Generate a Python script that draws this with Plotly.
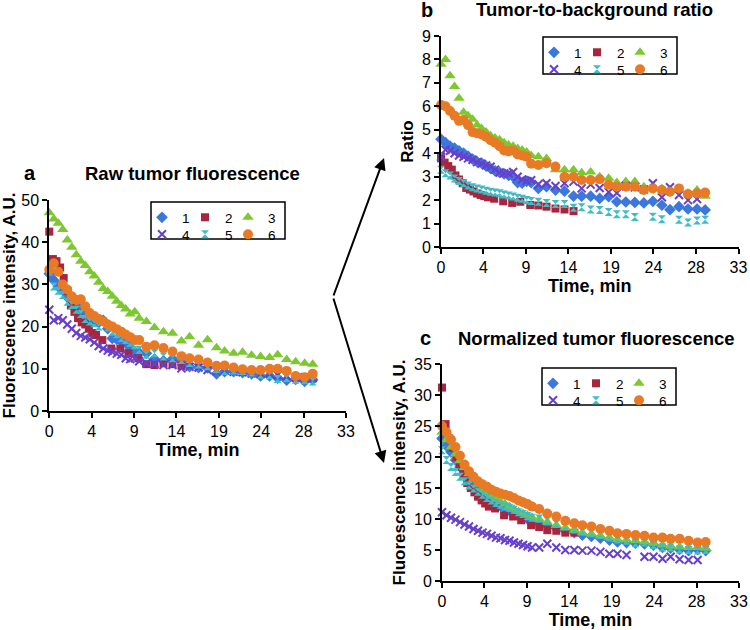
import plotly.graph_objects as go

# ---------------- data ----------------
SERIES_NAMES = ["1", "2", "3", "4", "5", "6"]
TIME_TICK_LABELS = ["0", "4", "9", "14", "19", "24", "28", "33"]
TIME_TICK_POS = [0, 4.71, 9.43, 14.14, 18.86, 23.57, 28.29, 33]

T_DENSE = [0.0, 0.5, 1.0, 1.5, 2.0, 2.5, 3.0, 3.5, 4.0, 4.5, 5.0, 5.5, 6.0, 6.5, 7.0, 7.5, 8.0, 8.5, 9.0, 9.5, 10.0]
T_SPARSE = [10.8, 11.7, 12.7, 13.7, 14.7, 15.6, 16.6, 17.6, 18.6, 19.5, 20.5, 21.5, 22.5, 23.5, 24.5, 25.4, 26.4, 27.4, 28.4, 29.3]
T_FULL = T_DENSE + T_SPARSE
T_RED = [0, 0.4, 0.8, 1.2, 1.6, 2.0, 2.4, 2.8, 3.2, 3.6, 4.0, 4.4, 4.8, 5.2, 5.9, 6.9, 7.9, 8.8, 9.9, 10.8, 11.7, 12.7, 13.7, 14.7]

# Panel a: raw tumor fluorescence
A_Y1 = [32.5, 31, 29.5, 28.5, 27, 26, 25, 24, 23, 22, 21.5, 21, 21.5, 19.5, 17.2, 17, 16.5, 16.2, 15, 14, 13.8] + \
       [13.7, 12.3, 11.9, 12.3, 11.8, 10.5, 10.3, 10.2, 8.8, 9.3, 9.3, 9.1, 8.8, 8.3, 8.3, 7.8, 7.3, 7.5, 7.0, 7.4]
A_Y2 = [42.5, 36, 35.5, 34, 31.5, 28.5, 25, 23.5, 22, 21, 20.5, 19.5, 18.5, 18, 16.8, 14.8, 14.8, 13.7, 12.5, 11.1, 10.9, 11.3, 11.1, 10.7]
A_Y3 = [47, 45.5, 44.5, 43, 40.5, 38.8, 37, 35.5, 34.5, 33, 32, 30.5, 29, 28.3, 27.2, 26, 25, 24.2, 23, 23.5, 22] + \
       [21.2, 19.8, 18.8, 18.4, 16.6, 17.6, 15.6, 16.9, 15, 14.2, 13.7, 13.9, 13.2, 12.9, 12.7, 13.3, 12.2, 11.7, 11.3, 11.1]
A_Y4 = [24, 21.5, 22, 21.5, 20.5, 19.5, 18.5, 17.8, 17.4, 17, 16.2, 15.4, 14.8, 14.3, 14, 13.6, 13.3, 12.5, 12.3, 12.5, 11.8] + \
       [11.3, 11.2, 10.9, 10.9, 10.1, 10.5, 10.3, 9.7, 9.4, 9.5, 9.3, 9.2, 8.9, 8.7, 8.9, 8.5, 8.3, 7.9, 8.0, 7.8]
A_Y5 = [33, 29.5, 28.5, 27.5, 25.9, 25.1, 24, 23, 21.8, 21.2, 20.8, 20, 21.3, 19.8, 18.8, 18.2, 17.3, 16.8, 16.2, 15.6, 14.5] + \
       [13.3, 13.7, 12.9, 12.5, 12.1, 11.4, 11.0, 10.6, 9.9, 9.5, 9.6, 9.5, 9.1, 8.6, 8.5, 7.6, 7.8, 7.4, 7.3, 7.0]
A_Y6 = [33.5, 35, 33, 30, 28.8, 27.2, 26.3, 26.5, 24.8, 23.2, 22.5, 21.8, 21.2, 20.5, 20, 19.4, 18.8, 18.1, 17.5, 16.8, 16.8] + \
       [15.2, 15.6, 14.9, 14.1, 13, 12.5, 12.2, 11.5, 10.7, 10.8, 10.3, 9.9, 9.7, 9.7, 10, 10, 9.5, 8.3, 8.0, 8.8]

# Panel b: tumor-to-background ratio
B_Y1 = [4.6, 4.45, 4.3, 4.22, 4.1, 4.0, 3.88, 3.75, 3.64, 3.58, 3.45, 3.35, 3.25, 3.18, 3.12, 3.05, 3.0, 2.75, 2.72, 2.8, 2.75] + \
       [2.5, 2.57, 2.43, 2.38, 2.17, 2.17, 2.17, 2.07, 2.15, 1.93, 1.92, 1.9, 1.88, 1.95, 1.78, 1.59, 1.72, 1.62, 1.62, 1.58]
B_Y2 = [3.78, 3.6, 3.45, 3.3, 3.05, 2.88, 2.72, 2.52, 2.45, 2.37, 2.28, 2.22, 2.17, 2.12, 2.06, 1.95, 1.88, 1.93, 1.79, 1.77, 1.72, 1.64, 1.6, 1.53]
B_Y3 = [7.8, 8.0, 7.3, 6.85, 6.35, 5.75, 5.6, 5.45, 5.2, 5.05, 4.9, 4.75, 4.65, 4.57, 4.45, 4.35, 4.3, 4.2, 4.14, 4.05, 3.9] + \
       [3.85, 3.78, 3.3, 3.29, 3.29, 3.17, 3.2, 3.0, 2.93, 2.75, 2.79, 2.79, 2.57, 2.5, 2.5, 2.43, 2.43, 2.3, 2.43, 2.17]
B_Y4 = [3.85, 4.15, 4.1, 4.0, 3.9, 3.85, 3.78, 3.72, 3.62, 3.55, 3.48, 3.42, 3.3, 3.18, 3.14, 3.14, 3.2, 3.0, 2.88, 2.82, 2.85] + \
       [2.68, 2.72, 2.6, 2.72, 2.79, 2.5, 2.66, 2.52, 2.34, 2.3, 2.6, 2.55, 2.45, 2.72, 2.12, 2.55, 2.22, 2.0, 2.05, None]
B_Y5 = [3.29, 3.15, 3.05, 2.92, 2.82, 2.72, 2.62, 2.55, 2.5, 2.45, 2.4, 2.36, 2.32, 2.29, 2.24, 2.2, 2.15, 2.1, 2.06, 2.0, 1.96] + \
       [1.93, 1.88, 1.83, 1.83, 1.67, 1.7, 1.6, 1.58, 1.49, 1.4, 1.4, 1.28, None, 1.29, 1.18, None, 1.16, 1.05, 1.13, 1.16]
B_Y6 = [6.06, 6.0, 5.8, 5.6, 5.38, 5.42, 5.2, 4.9, 4.85, 4.8, 4.7, 4.55, 4.45, 4.3, 4.12, 4.08, 4.12, 3.95, 3.9, 3.85, 3.55] + \
       [3.5, 3.57, 3.43, 3.0, 3.0, 2.86, 2.86, 2.89, 2.65, 2.57, 2.57, 2.57, 2.43, 2.5, 2.43, 2.36, 2.5, 2.26, 2.29, 2.32]

# Panel c: normalized tumor fluorescence
C_Y1 = [23, 21.8, 20.8, 19.5, 18.4, 17.4, 16.4, 15.5, 14.7, 14.0, 13.4, 12.9, 12.5, 12.1, 11.7, 11.3, 10.9, 10.6, 10.3, 10.0, 9.7] + \
       [9.3, 8.9, 8.5, 8.1, 7.8, 7.4, 7.2, 6.9, 6.6, 6.3, 6.2, 6.1, 6.0, 5.8, 5.4, 5.3, 5.1, 4.9, 5.1, 4.9]
C_Y2 = [31.2, 25.3, 23, 21.5, 20, 18.5, 17.2, 15.8, 15, 14.3, 13.6, 13.0, 12.5, 12.0, 11.7, 10.6, 10.4, 9.8, 9.0, 8.7, 8.2, 8.1, 7.8, 7.8]
C_Y3 = [24, 22.8, 21.6, 20.5, 19.4, 18.3, 17.3, 16.4, 15.6, 14.9, 14.3, 13.7, 13.2, 12.8, 12.4, 12.0, 11.6, 11.2, 10.9, 10.6, 10.3] + \
       [10.0, 9.5, 9.0, 8.6, 8.2, 7.8, 7.6, 7.3, 7.0, 6.7, 6.6, 6.5, 6.3, 6.1, 5.8, 5.6, 5.5, 5.4, 5.4, 5.3]
C_Y4 = [11.1, 10.6, 10.2, 9.9, 9.5, 9.1, 8.8, 8.4, 8.1, 7.8, 7.6, 7.3, 7.0, 6.9, 6.6, 6.5, 6.2, 6.0, 5.8, 5.6, 5.4] + \
       [5.4, 6.0, 5.4, 5.0, 5.0, 4.9, 4.9, 4.7, 4.4, 4.4, 4.2, None, 3.9, 3.9, 3.6, 3.9, 3.5, 3.4, 3.4, None]
C_Y5 = [21.1, 19.5, 18.4, 17.6, 16.8, 16.1, 15.4, 14.9, 14.4, 13.9, 13.4, 13.0, 12.6, 12.3, 12.0, 11.8, 11.5, 11.1, 10.8, 10.5, 10.2] + \
       [10.1, 9.7, 9.2, 8.8, 8.3, 8.0, 7.7, 7.4, 7.0, 6.7, 6.5, 6.1, 6.2, 5.8, 5.4, 5.4, 5.1, 5.0, 4.9, 5.0]
C_Y6 = [25, 24, 22.8, 21.6, 20.2, 18.8, 17.7, 16.8, 16.1, 15.6, 15.2, 14.7, 14.4, 14.1, 13.9, 13.7, 13.4, 13.0, 12.7, 12.4, 12.0] + \
       [11.6, 10.9, 10.4, 9.7, 9.3, 9.0, 8.8, 8.4, 8.1, 7.7, 7.6, 7.4, 7.3, 7.0, 7.0, 6.8, 6.8, 6.5, 6.2, 6.3]

# ---------------- styles ----------------
W, H = 750, 630
FONT = "Liberation Sans, Arial, sans-serif"
COLORS = ["#3B77DD", "#A8253E", "#7CC82E", "#6640CC", "#3DBDC6", "#E97A25"]
SYMBOLS = ["diamond", "square", "triangle-up", "x-thin", "hourglass", "circle"]
SIZES = [9, 8, 10, 8, 8, 10]


def px(x):
    return x / W


def py(y):
    return 1 - y / H


# legend entry spacing (px); the last entry of a row gets room for its label
ENTRY_WIDTH = 43
LAST_ENTRY_WIDTH = 60

fig = go.Figure()

panels = [
    dict(x="x", y="y", times=[T_FULL, T_RED, T_FULL, T_FULL, T_FULL, T_FULL],
         ys=[A_Y1, A_Y2, A_Y3, A_Y4, A_Y5, A_Y6], legends=("legend", "legend2")),
    dict(x="x2", y="y2", times=[T_FULL, T_RED, T_FULL, T_FULL, T_FULL, T_FULL],
         ys=[B_Y1, B_Y2, B_Y3, B_Y4, B_Y5, B_Y6], legends=("legend3", "legend4")),
    dict(x="x3", y="y3", times=[T_FULL, T_RED, T_FULL, T_FULL, T_FULL, T_FULL],
         ys=[C_Y1, C_Y2, C_Y3, C_Y4, C_Y5, C_Y6], legends=("legend5", "legend6")),
]

for p in panels:
    for i in range(6):
        marker = dict(symbol=SYMBOLS[i], size=SIZES[i], color=COLORS[i],
                      line=dict(width=0, color=COLORS[i]))
        if SYMBOLS[i] == "x-thin":
            marker["line"] = dict(width=2, color=COLORS[i])
        last_in_row = i in (2, 5)
        fig.add_trace(go.Scatter(
            x=p["times"][i], y=p["ys"][i], mode="markers", name=SERIES_NAMES[i],
            marker=marker, xaxis=p["x"], yaxis=p["y"], cliponaxis=False,
            legend=p["legends"][0] if i < 3 else p["legends"][1],
            legendwidth=(LAST_ENTRY_WIDTH if last_in_row else ENTRY_WIDTH) / W,
        ))

axis_common = dict(showline=True, linecolor="black", linewidth=2, ticks="outside",
                   ticklen=5, tickwidth=2, tickcolor="black", showgrid=False,
                   zeroline=False, automargin=False,
                   tickfont=dict(family=FONT, size=16, color="black"))
xtitle_font = dict(family=FONT, size=18, color="black", weight="bold")
ytitle_font = dict(family=FONT, size=17, color="black", weight="bold")


def xaxis(dom, anchor):
    return dict(axis_common, domain=dom, anchor=anchor, range=[0, 33],
                tickmode="array", tickvals=TIME_TICK_POS, ticktext=TIME_TICK_LABELS,
                title=dict(text="Time, min", font=xtitle_font, standoff=2))


def yaxis(dom, anchor, rng, dtick, title):
    return dict(axis_common, domain=dom, anchor=anchor, range=rng, dtick=dtick,
                tick0=0, title=dict(text=title, font=ytitle_font, standoff=4))


legend_common = dict(orientation="h", xanchor="left", yanchor="top",
                     bgcolor="rgba(0,0,0,0)", borderwidth=0, itemwidth=30,
                     entrywidthmode="fraction",
                     font=dict(family=FONT, size=13.5, color="black"), tracegroupgap=0)

# legend box positions (px): left, top
LEG_BOXES = [(151, 202), (543, 37), (542, 368)]
BOX_W, BOX_H = 134, 37
legends = {}
names = [("legend", "legend2"), ("legend3", "legend4"), ("legend5", "legend6")]
shapes = []
for (l, t), (n1, n2) in zip(LEG_BOXES, names):
    legends[n1] = dict(legend_common, x=px(l - 9), y=py(t))
    legends[n2] = dict(legend_common, x=px(l - 9), y=py(t + 17))
    shapes.append(dict(type="rect", xref="paper", yref="paper",
                       x0=px(l), x1=px(l + BOX_W), y0=py(t + BOX_H), y1=py(t),
                       line=dict(color="black", width=1.5)))

annotations = []
for txt, x, y, size in [("a", 30, 173, 20), ("Raw tumor fluorescence", 192, 173, 18.5),
                         ("b", 427, 10, 20), ("Tumor-to-background ratio", 594, 10, 18.5),
                         ("c", 425, 338, 20), ("Normalized tumor fluorescence", 596, 338, 18.5)]:
    annotations.append(dict(text=txt, x=px(x), y=py(y), xref="paper", yref="paper",
                            showarrow=False, xanchor="center", yanchor="middle",
                            font=dict(family=FONT, size=size, color="black", weight="bold")))

# arrows from panel a to b and c
VERTEX = (333, 297)
for tip in [(384, 158), (384, 463)]:
    annotations.append(dict(text="", x=px(tip[0]), y=py(tip[1]), xref="paper", yref="paper",
                            ax=VERTEX[0] - tip[0], ay=VERTEX[1] - tip[1],
                            showarrow=True, arrowhead=2, arrowsize=1.2, arrowwidth=2,
                            arrowcolor="black", standoff=0))

fig.update_layout(
    width=W, height=H, margin=dict(l=0, r=0, t=0, b=0),
    paper_bgcolor="white", plot_bgcolor="white", showlegend=True,
    font=dict(family=FONT, color="black"),
    xaxis=xaxis([px(49.3), px(346)], "y"),
    yaxis=yaxis([py(411), py(200)], "x", [0, 50], 10, "Fluorescence intensity, A.U."),
    xaxis2=xaxis([px(441), px(738.5)], "y2"),
    yaxis2=yaxis([py(247), py(36)], "x2", [0, 9], 1, "Ratio"),
    xaxis3=xaxis([px(442), px(739)], "y3"),
    yaxis3=yaxis([py(581), py(364)], "x3", [0, 35], 5, "Fluorescence intensity, A.U."),
    shapes=shapes, annotations=annotations, **legends,
)

fig.write_html("out.html", config={"displayModeBar": False},
               post_script="document.body.style.margin='0px';")
